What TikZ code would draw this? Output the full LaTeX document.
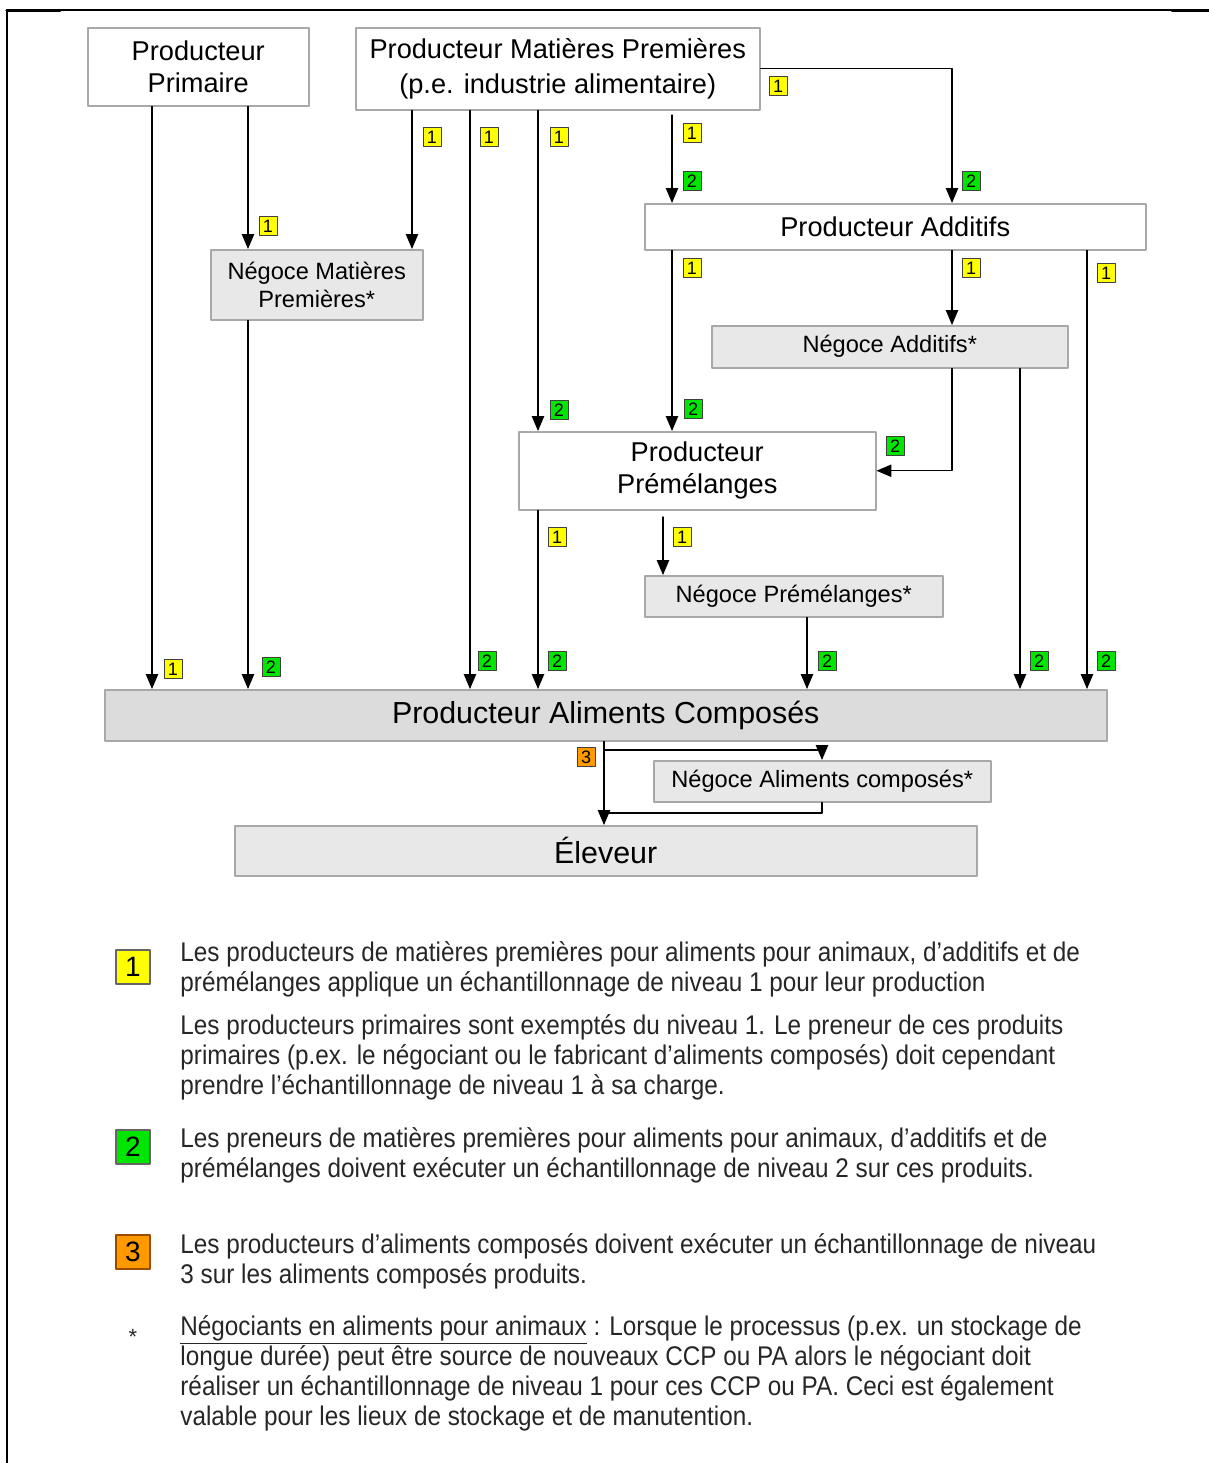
\documentclass[tikz,border=0pt]{standalone}
\usepackage{fontspec}
\setmainfont{Liberation Sans}
\newfontfamily\legendfont[FakeStretch=0.9]{Liberation Sans}
\usepackage{xcolor}
\usepackage{tikz}
\usetikzlibrary{arrows}
\definecolor{boxline}{HTML}{A8A8A8}
\definecolor{boxgray}{HTML}{E8E8E8}
\definecolor{pacgray}{HTML}{DCDCDC}
\definecolor{tagyellow}{HTML}{FFFF00}
\definecolor{taggreen}{HTML}{00E600}
\definecolor{tagorange}{HTML}{FF9900}
\tikzset{
  box/.style={draw=boxline,line width=0.75pt,fill=white,anchor=north west,inner sep=0pt,align=center},
  graybox/.style={box,fill=boxgray},
  txtbig/.style={font=\fontsize{13.6}{16}\selectfont},
  txtsmall/.style={font=\fontsize{11.8}{14}\selectfont},
  txthuge/.style={font=\fontsize{15.2}{18}\selectfont},
  tag/.style={draw=black!75,line width=0.5pt,minimum width=9pt,minimum height=9.5pt,inner sep=0pt,font=\fontsize{9}{9}\selectfont},
  tagy/.style={tag,fill=tagyellow},
  tagg/.style={tag,fill=taggreen},
  tago/.style={tag,fill=tagorange},
  keytag/.style={draw=black!60,line width=0.6pt,minimum width=17pt,minimum height=17pt,inner sep=0pt,font=\fontsize{14}{14}\selectfont},
  legend/.style={anchor=base west,align=left,inner sep=0pt,text=black!85,font=\legendfont\fontsize{13.5}{15}\selectfont},
  flow/.style={->,line width=0.7pt}
}
\begin{document}
\begin{tikzpicture}[line cap=round,line join=round,>=triangle 45,x=0.5pt,y=-0.5pt]
	\useasboundingbox (0,0) rectangle (1209,1463);
	\draw[line width=1pt] (7,1463) -- (7,10) -- (1209,10);
	\draw[line width=1.6pt] (7,10.5) -- (60,10.5);
	\draw[line width=1.6pt] (1172,10.5) -- (1209,10.5);
	% boites
	\node[box,txtbig,minimum width=110.5pt,minimum height=39pt] (pprim) at (87,27) {Producteur\\Primaire};
	\node[box,txtbig,minimum width=202pt,minimum height=41pt] (pmp) at (355,27) {Producteur Matières Premières\\[1.5pt](p.e. industrie alimentaire)};
	\node[graybox,txtsmall,minimum width=106pt,minimum height=35pt] (nmp) at (210,249) {Négoce Matières\\Premières*};
	\node[box,txtbig,minimum width=250.5pt,minimum height=23pt] (padd) at (644,203) {Producteur Additifs};
	\node[graybox,txtsmall,minimum width=178pt,minimum height=21pt] (nadd) at (711,325) {Négoce Additifs*};
	\node[box,txtbig,minimum width=178.5pt,minimum height=39pt] (pprem) at (518,431) {Producteur\\Prémélanges};
	\node[graybox,txtsmall,minimum width=149pt,minimum height=20.5pt] (nprem) at (644,575) {Négoce Prémélanges*};
	\node[box,fill=pacgray,txthuge,minimum width=501pt,minimum height=25.5pt] (pac) at (104,689) {Producteur Aliments Composés};
	\node[graybox,txtsmall,minimum width=168.5pt,minimum height=20.5pt] (nac) at (653,760) {Négoce Aliments composés*};
	\node[graybox,txthuge,minimum width=371pt,minimum height=25pt] (elev) at (234,825) {Éleveur};
	\coordinate (pmp-out) at (672,115);
	\coordinate (pprem-out) at (663,517);
	\coordinate (split) at (604,750);
	\coordinate (join) at (604,813);
	% fleches
	\draw[flow] (pprim.south -| 152,0) -- (pac.north -| 152,0);
	\draw[flow] (pprim.south -| 248,0) -- (nmp.north -| 248,0);
	\draw[flow] (nmp.south -| 248,0) -- (pac.north -| 248,0);
	\draw[flow] (pmp.south -| 412,0) -- (nmp.north -| 412,0);
	\draw[flow] (pmp.south -| 470,0) -- (pac.north -| 470,0);
	\draw[flow] (pmp.south -| 538,0) -- (pprem.north -| 538,0);
	\draw[flow] (pmp-out) -- (padd.north -| 672,0);
	\draw[flow] (pmp.east) -| (padd.north -| 952,0);
	\draw[flow] (padd.south -| 672,0) -- (pprem.north -| 672,0);
	\draw[flow] (padd.south -| 952,0) -- (nadd.north -| 952,0);
	\draw[flow] (padd.south -| 1087,0) -- (pac.north -| 1087,0);
	\draw[flow] (nadd.south -| 952,0) |- (pprem.east);
	\draw[flow] (nadd.south -| 1020,0) -- (pac.north -| 1020,0);
	\draw[flow] (pprem.south -| 538,0) -- (pac.north -| 538,0);
	\draw[flow] (pprem-out) -- (nprem.north -| 663,0);
	\draw[flow] (nprem.south -| 807,0) -- (pac.north -| 807,0);
	\draw[flow] (pac.south -| 604,0) -- (elev.north -| 604,0);
	\draw[flow] (split) -| (nac.north -| 822,0);
	\draw[line width=0.7pt] (nac.south -| 822,0) |- (join);
	% niveaux
	\node[tagy] (t1) at (268,226) {1};
	\node[tagy] (t2) at (432,137) {1};
	\node[tagy] (t3) at (489,137) {1};
	\node[tagy] (t4) at (559,137) {1};
	\node[tagy] (t5) at (692,133) {1};
	\node[tagy] (t6) at (778,86) {1};
	\node[tagy] (t7) at (692,268) {1};
	\node[tagy] (t8) at (971,268) {1};
	\node[tagy] (t9) at (1106,273) {1};
	\node[tagy] (t10) at (557,537) {1};
	\node[tagy] (t11) at (682,537) {1};
	\node[tagy] (t12) at (173,669) {1};
	\node[tagg] (t13) at (692,181) {2};
	\node[tagg] (t14) at (971,181) {2};
	\node[tagg] (t15) at (559,410) {2};
	\node[tagg] (t16) at (693,409) {2};
	\node[tagg] (t17) at (895,446) {2};
	\node[tagg] (t18) at (271,667) {2};
	\node[tagg] (t19) at (487,661) {2};
	\node[tagg] (t20) at (557,661) {2};
	\node[tagg] (t21) at (827,661) {2};
	\node[tagg] (t22) at (1039,661) {2};
	\node[tagg] (t23) at (1106,661) {2};
	\node[tago] (t24) at (586,757) {3};
	% legende
	\node[keytag,fill=tagyellow] (key1) at (133,967) {1};
	\node[keytag,fill=taggreen] (key2) at (133,1147) {2};
	\node[keytag,fill=tagorange,draw=orange!60!black] (key3) at (133,1252) {3};
	\node[text=black!85,font=\fontsize{11}{11}\selectfont] (keystar) at (133,1337) {*};
	\node[legend] (leg1a) at (180,991) {Les producteurs de matières premières pour aliments pour animaux, d’additifs et de\\prémélanges applique un échantillonnage de niveau 1 pour leur production};
	\node[legend] (leg1b) at (180,1094) {Les producteurs primaires sont exemptés du niveau 1. Le preneur de ces produits\\primaires (p.ex. le négociant ou le fabricant d’aliments composés) doit cependant\\prendre l’échantillonnage de niveau 1 à sa charge.};
	\node[legend] (leg2) at (180,1177) {Les preneurs de matières premières pour aliments pour animaux, d’additifs et de\\prémélanges doivent exécuter un échantillonnage de niveau 2 sur ces produits.};
	\node[legend] (leg3) at (180,1283) {Les producteurs d’aliments composés doivent exécuter un échantillonnage de niveau\\3 sur les aliments composés produits.};
	\node[legend] (legstar) at (180,1425) {\underline{Négociants en aliments pour animaux} : Lorsque le processus (p.ex. un stockage de\\longue durée) peut être source de nouveaux CCP ou PA alors le négociant doit\\réaliser un échantillonnage de niveau 1 pour ces CCP ou PA. Ceci est également\\valable pour les lieux de stockage et de manutention.};
\end{tikzpicture}
\end{document}
